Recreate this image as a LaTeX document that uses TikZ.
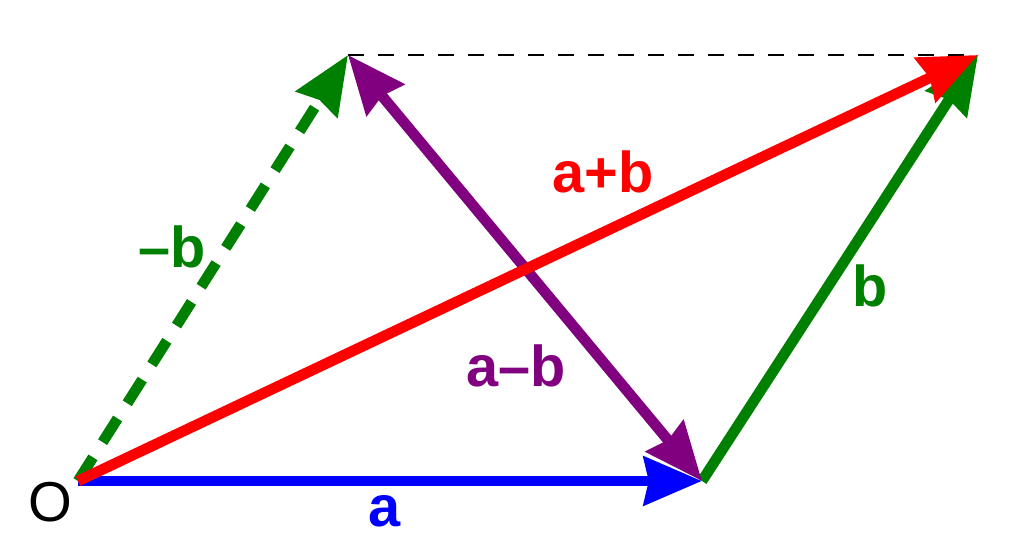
\documentclass[tikz,border=0pt]{standalone}
\usepackage{fontspec}
\setmainfont{Liberation Sans}
\usetikzlibrary{arrows.meta}
\definecolor{vert}{RGB}{0,128,0}
\definecolor{violet}{RGB}{128,0,128}
\tikzset{
  pointe/.tip={Stealth[length=1.45cm, width=1.2cm, inset=0.12cm]},
  vecteur/.style={line width=7.6pt, -pointe},
  etiquette/.style={font=\fontsize{41}{41}\selectfont\bfseries, anchor=base, inner sep=0pt}
}
\begin{document}
\begin{tikzpicture}
        \useasboundingbox (0,0) rectangle (25.6,13.975);

        % Définition des points du parallélogramme
        \coordinate (O) at (1.95, 1.95);
        \coordinate (A) at (17.55, 1.95);
        \coordinate (B) at (8.7, 12.6);
        \coordinate (S) at (24.45, 12.6);

        % Ligne pointillée du haut
        \draw[dashed, line width=1.2pt, dash pattern=on 0.4cm off 0.35cm] (B) -- (S);

        % Vecteurs a, b et -b
        \draw[vecteur, blue] (O) -- (A);
        \draw[vecteur, vert] (A) -- (S);
        \draw[vecteur, vert, dash pattern=on 0.7cm off 0.45cm] (O) -- (B);

        % Vecteur a-b (double pointe)
        \draw[vecteur, violet, pointe-pointe] (B) -- (A);

        % Vecteur a+b
        \draw[vecteur, red] (O) -- (S);

        % Étiquettes
        \node[etiquette, red] (lab) at (15.075, 9.15) {a+b};
        \node[etiquette, violet] (lamb) at (12.9, 4.3) {a–b};
        \node[etiquette, vert] (lmb) at (4.3, 7.275) {–b};
        \node[etiquette, vert] (lb) at (21.75, 6.3) {b};
        \node[etiquette, blue] (la) at (9.625, 0.8) {a};
        \node[anchor=base, inner sep=0pt, font=\fontsize{40}{40}\selectfont] (lO) at (1.25, 0.925) {O};

\end{tikzpicture}
\end{document}
